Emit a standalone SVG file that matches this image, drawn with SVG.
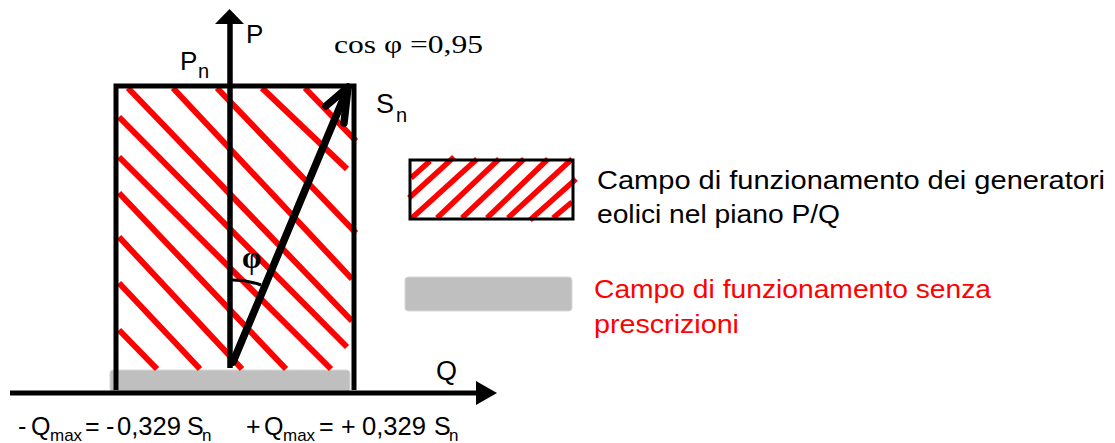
<svg xmlns="http://www.w3.org/2000/svg" width="1115" height="443" viewBox="0 0 1115 443" xml:space="preserve">
<defs>
<style>
.hatch{stroke:#ff0000;stroke-width:6;stroke-linecap:butt;fill:none}
.lhatch{stroke:#ff0000;stroke-width:5.5;fill:none}
.blk{stroke:#000;fill:none}
.sans{font-family:"Liberation Sans",Arial,sans-serif}
.serif{font-family:"Liberation Serif","Times New Roman",serif}
.gray{fill:#bfbfbf;stroke:#d9d9d9;stroke-width:1}
</style>
</defs>
<rect width="1115" height="443" fill="#fff"/>

<g id="region-noprescription">
<rect class="gray" x="110" y="370" width="240" height="22" rx="3"/>
</g>

<g id="operating-field">
<g id="hatching">
<line class="hatch" x1="128" y1="88" x2="352" y2="321"/>
<line class="hatch" x1="173" y1="88" x2="352" y2="279"/>
<line class="hatch" x1="217" y1="88" x2="356" y2="233"/>
<line class="hatch" x1="262" y1="88" x2="347" y2="169"/>
<line class="hatch" x1="305" y1="88" x2="356" y2="141"/>
<line class="hatch" x1="119" y1="117" x2="347" y2="347"/>
<line class="hatch" x1="119" y1="157" x2="331" y2="369"/>
<line class="hatch" x1="119" y1="193" x2="286" y2="369"/>
<line class="hatch" x1="119" y1="237" x2="242" y2="369"/>
<line class="hatch" x1="119" y1="283" x2="200" y2="369"/>
<line class="hatch" x1="119" y1="330" x2="157" y2="369"/>
</g>
<polyline class="blk" stroke-width="5" points="116,390 116,86 354,86 354,390"/>
</g>

<g id="axis-P">
<line class="blk" stroke-width="5.5" x1="230" y1="368" x2="230" y2="22"/>
<polygon points="215,24 229.5,9 244,24" fill="#000"/>
<text class="sans" x="246" y="43" font-size="26">P</text>
</g>

<g id="axis-Q">
<line class="blk" stroke-width="5" x1="10" y1="393" x2="480" y2="393"/>
<polygon points="476,381 497,393 476,405" fill="#000"/>
<text class="sans" x="436" y="380" font-size="27">Q</text>
</g>

<g id="label-Pn">
<text class="sans" x="180" y="70" font-size="26">P<tspan x="198" y="78" font-size="20">n</tspan></text>
</g>

<g id="vector-Sn">
<line class="blk" stroke-width="7.5" stroke-linecap="round" x1="233" y1="362" x2="347" y2="90"/>
<polyline class="blk" stroke-width="7.5" stroke-linecap="round" stroke-linejoin="round" points="326,106 348,87 344,123"/>
<text class="sans" x="376" y="113" font-size="27">S<tspan x="396" y="122" font-size="20">n</tspan></text>
</g>

<g id="angle-phi">
<path class="blk" stroke-width="3" d="M232,280 A82,82 0 0 1 261,285"/>
<text class="serif" x="242" y="268" font-size="31" font-weight="bold">φ</text>
</g>

<g id="label-cos">
<text class="serif" x="334" y="53" font-size="26" textLength="149" lengthAdjust="spacingAndGlyphs">cos φ =0,95</text>
</g>

<g id="labels-Qmax" class="sans" font-size="25">
<text x="18" y="435">-</text>
<text x="31" y="435">Q</text>
<text x="50" y="441" font-size="17">max</text>
<text x="85" y="435">=</text>
<text x="106" y="435">-</text>
<text x="117" y="435" textLength="64" lengthAdjust="spacingAndGlyphs">0,329</text>
<text x="187" y="435">S</text>
<text x="202" y="441" font-size="17">n</text>
<text x="246" y="435">+</text>
<text x="264" y="435">Q</text>
<text x="283" y="441" font-size="17">max</text>
<text x="319" y="435">=</text>
<text x="341" y="435">+</text>
<text x="362" y="435" textLength="64" lengthAdjust="spacingAndGlyphs">0,329</text>
<text x="434" y="435">S</text>
<text x="449" y="441" font-size="17">n</text>
</g>

<g id="legend-hatched">
<g>
<line class="lhatch" x1="411" y1="178" x2="430" y2="161"/>
<line class="lhatch" x1="409" y1="198" x2="454" y2="157"/>
<line class="lhatch" x1="412" y1="218" x2="477" y2="159"/>
<line class="lhatch" x1="437" y1="218" x2="499" y2="159"/>
<line class="lhatch" x1="462" y1="218" x2="524" y2="159"/>
<line class="lhatch" x1="487" y1="218" x2="548" y2="159"/>
<line class="lhatch" x1="508" y1="218" x2="572" y2="159"/>
<line class="lhatch" x1="530" y1="220" x2="576" y2="179"/>
<line class="lhatch" x1="553" y1="218" x2="572" y2="202"/>
</g>
<rect class="blk" stroke-width="3" x="410" y="160" width="163" height="59"/>
<text class="sans" x="597" y="189" font-size="26" textLength="508" lengthAdjust="spacingAndGlyphs">Campo di funzionamento  dei generatori</text>
<text class="sans" x="597" y="223" font-size="26" textLength="243" lengthAdjust="spacingAndGlyphs">eolici nel piano P/Q</text>
</g>

<g id="legend-gray">
<rect class="gray" x="405" y="277" width="167" height="34" rx="3"/>
<text class="sans" x="594" y="298" font-size="26" fill="#ff0000" textLength="397" lengthAdjust="spacingAndGlyphs">Campo di funzionamento  senza</text>
<text class="sans" x="594" y="333" font-size="26" fill="#ff0000" textLength="145" lengthAdjust="spacingAndGlyphs">prescrizioni</text>
</g>
</svg>
